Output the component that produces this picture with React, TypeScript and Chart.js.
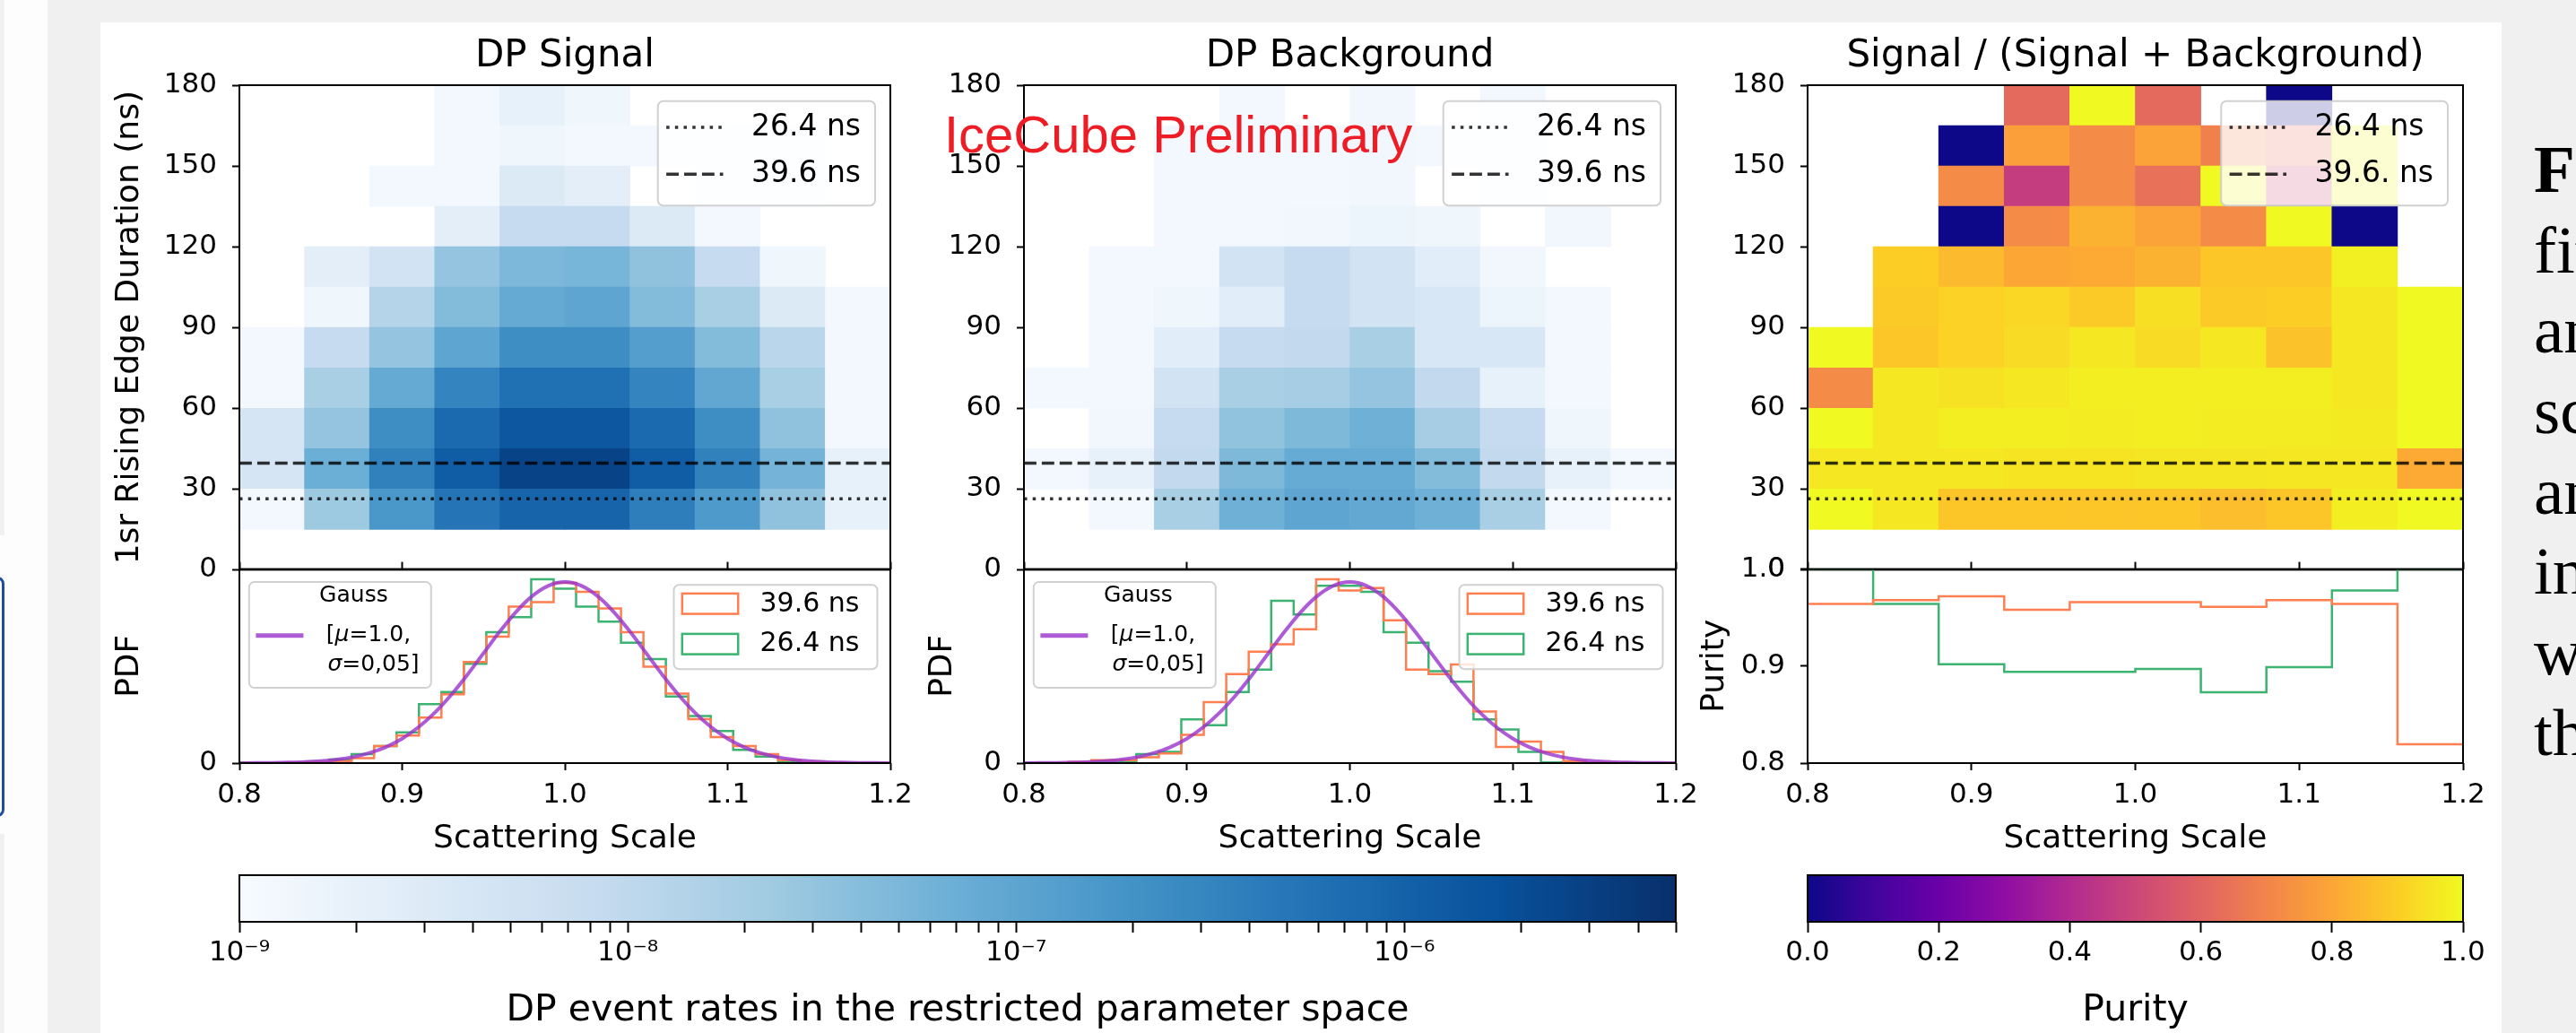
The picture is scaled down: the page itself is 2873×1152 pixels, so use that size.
import React, { useEffect, useRef } from 'react';
import { Chart, registerables } from 'chart.js';

Chart.register(...registerables);

const FONT = "'DejaVu Sans', sans-serif";
const INK = '#000000';
Chart.defaults.font.family = FONT;
Chart.defaults.color = INK;

// ================= DATA =================
// Scattering-scale bin edges of the 2D maps and duration (ns) bin edges, top row first
const scaleEdges = [0.8, 0.84, 0.88, 0.92, 0.96, 1.0, 1.04, 1.08, 1.12, 1.16, 1.2];
const durationEdges = [180, 165, 150, 135, 120, 105, 90, 75, 60, 45, 30, 15];
const cutDurations = [26.4, 39.6];
const heatTitles = ['DP Signal', 'DP Background', 'Signal / (Signal + Background)'];
const cutLabelsA = ['26.4 ns', '39.6 ns'];
const cutLabelsB = ['26.4 ns', '39.6. ns'];

// DP event rates, rows from 165-180 ns (top) down to 15-30 ns; null = empty bin
const signalRates = [
  [null, null, null, 1.19e-9, 1.98e-9, 1.41e-9, null, null, null, null],
  [null, null, null, 1.19e-9, 1.41e-9, 1.19e-9, 1.19e-9, 1.19e-9, 1.19e-9, null],
  [null, null, 1.19e-9, 1.19e-9, 3.16e-9, 2.34e-9, null, 1.19e-9, 1.19e-9, null],
  [null, null, null, 2.34e-9, 8.41e-9, 8.41e-9, 3.16e-9, 1.19e-9, null, null],
  [null, 2.34e-9, 5.04e-9, 3.02e-8, 4.82e-8, 5.48e-8, 3.29e-8, 8.41e-9, 1.41e-9, null],
  [null, 1.41e-9, 1.29e-8, 4.25e-8, 8.38e-8, 9.93e-8, 4.25e-8, 1.81e-8, 3.16e-9, 1.19e-9],
  [1.19e-9, 8.41e-9, 3.02e-8, 9.93e-8, 2.33e-7, 2.33e-7, 1.28e-7, 4.25e-8, 1.18e-8, 1.19e-9],
  [1.19e-9, 1.81e-8, 8.38e-8, 3.27e-7, 6.21e-7, 6.21e-7, 3.27e-7, 9.12e-8, 1.81e-8, 1.19e-9],
  [4.25e-9, 3.02e-8, 2.33e-7, 7.67e-7, 1.39e-6, 1.39e-6, 7.67e-7, 2.33e-7, 3.29e-8, 1.19e-9],
  [4.25e-9, 7.08e-8, 3.56e-7, 1.17e-6, 2.75e-6, 2.75e-6, 1.17e-6, 3.56e-7, 5.72e-8, 1.98e-9],
  [1.19e-9, 2.44e-8, 1.66e-7, 5.46e-7, 9.1e-7, 9.1e-7, 3.88e-7, 1.52e-7, 3.29e-8, 1.98e-9],
];
const backgroundRates = [
  [null, null, null, 1.19e-9, null, 1.29e-9, null, 1.19e-9, null, null],
  [null, null, 1.19e-9, 1.19e-9, 1.19e-9, 1.29e-9, 1.19e-9, 1.19e-9, null, null],
  [null, null, 1.19e-9, 1.19e-9, 1.19e-9, 1.29e-9, null, 1.19e-9, null, null],
  [null, null, 1.19e-9, 1.19e-9, 1.29e-9, 1.53e-9, 1.41e-9, null, 1.29e-9, null],
  [null, 1.19e-9, 1.19e-9, 5.04e-9, 8.41e-9, 5.04e-9, 2.55e-9, 1.29e-9, null, null],
  [null, 1.19e-9, 1.41e-9, 2.55e-9, 8.41e-9, 5.04e-9, 3.91e-9, 1.53e-9, 1.19e-9, null],
  [null, 1.19e-9, 2.55e-9, 8.41e-9, 9.16e-9, 1.81e-8, 3.91e-9, 3.91e-9, 1.19e-9, null],
  [1.19e-9, 1.19e-9, 5.04e-9, 1.81e-8, 1.97e-8, 3.02e-8, 9.16e-9, 1.98e-9, 1.19e-9, null],
  [null, 1.29e-9, 8.41e-9, 3.15e-8, 4.62e-8, 6.5e-8, 1.97e-8, 8.41e-9, 1.41e-9, null],
  [1.19e-9, 1.98e-9, 9.16e-9, 4.62e-8, 8.03e-8, 8.03e-8, 4.25e-8, 9.16e-9, 1.98e-9, 1.19e-9],
  [null, 1.19e-9, 1.81e-8, 6.5e-8, 9.93e-8, 8.75e-8, 6.5e-8, 1.81e-8, 1.19e-9, null],
];
const purityMap = [
  [null, null, null, 0.62, 1.0, 0.62, null, 0.0, null, null],
  [null, null, 0.0, 0.78, 0.72, 0.79, 0.69, 0.64, 1.0, null],
  [null, null, 0.72, 0.47, 0.72, 0.64, 1.0, 0.5, 1.0, null],
  [null, null, 0.0, 0.72, 0.83, 0.79, 0.72, 1.0, 0.0, null],
  [null, 0.9, 0.85, 0.8, 0.81, 0.83, 0.88, 0.88, 0.98, null],
  [null, 0.89, 0.91, 0.92, 0.89, 0.94, 0.89, 0.9, 0.96, 1.0],
  [1.0, 0.88, 0.91, 0.93, 0.96, 0.93, 0.96, 0.87, 0.96, 1.0],
  [0.72, 0.96, 0.945, 0.96, 0.975, 0.975, 0.975, 0.975, 0.96, 1.0],
  [1.0, 0.96, 0.975, 0.975, 0.97, 0.975, 0.97, 0.97, 0.965, 1.0],
  [0.96, 0.96, 0.96, 0.95, 0.95, 0.955, 0.955, 0.96, 0.96, 0.81],
  [1.0, 0.96, 0.88, 0.88, 0.88, 0.88, 0.86, 0.88, 0.975, 1.0],
];

// 1D PDFs (29 equal bins between 0.8 and 1.2)
const pdfRange = [0.8, 1.2];
const pdfBinCount = 29;
const pdfMax = 8.55;
const signalPdf396 = [0, 0, 0.02, 0.05, 0.09, 0.22, 0.75, 1.21, 2.01, 3.03, 4.45, 5.57, 6.89, 7.09, 7.94, 7.55, 6.82, 5.77, 4.25, 3.06, 1.94, 1.15, 0.75, 0.4, 0.13, 0.05, 0.02, 0, 0];
const signalPdf264 = [0, 0, 0.01, 0.04, 0.16, 0.4, 0.75, 1.35, 2.6, 3.13, 4.38, 5.77, 6.43, 8.1, 7.68, 6.89, 6.23, 5.3, 4.58, 2.93, 2.07, 1.41, 0.58, 0.29, 0.09, 0.03, 0.01, 0, 0];
const backgroundPdf396 = [0, 0, 0.05, 0.13, 0.13, 0.26, 0.42, 1.24, 2.69, 3.92, 4.91, 5.24, 5.9, 8.1, 7.61, 7.71, 6.29, 4.12, 3.92, 4.35, 2.27, 0.71, 0.95, 0.49, 0.09, 0.03, 0.01, 0, 0];
const backgroundPdf264 = [0, 0, 0.02, 0.09, 0.09, 0.4, 0.49, 1.93, 1.67, 3.13, 4.12, 7.15, 6.55, 7.81, 7.81, 7.55, 5.77, 5.3, 4.05, 3.59, 1.93, 1.48, 0.49, 0.03, 0, 0, 0, 0, 0];
const gaussScale = [0.8, 0.81, 0.82, 0.83, 0.84, 0.85, 0.86, 0.87, 0.88, 0.89, 0.9, 0.91, 0.92, 0.93, 0.94, 0.95, 0.96, 0.97, 0.98, 0.99, 1.0, 1.01, 1.02, 1.03, 1.04, 1.05, 1.06, 1.07, 1.08, 1.09, 1.1, 1.11, 1.12, 1.13, 1.14, 1.15, 1.16, 1.17, 1.18, 1.19, 1.2];
const gaussPdf = [0.003, 0.006, 0.012, 0.025, 0.048, 0.089, 0.158, 0.272, 0.448, 0.709, 1.08, 1.579, 2.218, 2.995, 3.884, 4.839, 5.794, 6.665, 7.365, 7.821, 7.979, 7.821, 7.365, 6.665, 5.794, 4.839, 3.884, 2.995, 2.218, 1.579, 1.08, 0.709, 0.448, 0.272, 0.158, 0.089, 0.048, 0.025, 0.012, 0.006, 0.003];

// Purity per scattering-scale bin
const purity264 = [1.0, 0.964, 0.902, 0.894, 0.894, 0.897, 0.873, 0.899, 0.978, 1.0];
const purity396 = [0.964, 0.968, 0.972, 0.958, 0.966, 0.966, 0.961, 0.968, 0.964, 0.8195];

// Colour bars
const rateRange = [1e-9, 5e-6];
const rateTickValues = [1e-9, 2e-9, 3e-9, 4e-9, 5e-9, 6e-9, 7e-9, 8e-9, 9e-9, 1e-8, 2e-8, 3e-8, 4e-8, 5e-8, 6e-8, 7e-8, 8e-8, 9e-8, 1e-7, 2e-7, 3e-7, 4e-7, 5e-7, 6e-7, 7e-7, 8e-7, 9e-7, 1e-6, 2e-6, 3e-6, 4e-6, 5e-6];
const rateMajorTicks = [1e-9, 1e-8, 1e-7, 1e-6];
const rateTickLabels = ['10⁻⁹', '10⁻⁸', '10⁻⁷', '10⁻⁶'];
const purityTicks = [0, 0.2, 0.4, 0.6, 0.8, 1.0];

// ================= STYLE =================
const BLUES = ['#f7fbff', '#deebf7', '#c6dbef', '#9ecae1', '#6baed6', '#4292c6', '#2171b5', '#08519c', '#08306b'];
const PLASMA = ['#0d0887', '#41049d', '#6a00a8', '#8f0da4', '#b12a90', '#cc4778', '#e16462', '#f2844b', '#fca636', '#fcce25', '#f0f921'];
const CUT_COLOR = 'rgba(0,0,0,0.8)';
const CUT_WIDTH = 3.5;
const DOTTED = [3.5, 6.2];
const DASHED = [13.9, 6];
const HIST_ORANGE = '#ff7f50';
const HIST_GREEN = '#3cb371';
const GAUSS_COLOR = 'rgba(153,50,204,0.8)';
const tickFont = { family: FONT, size: 31 };
const labelFont = { family: FONT, size: 36 };

function hexRgb(h: string) {
  return [parseInt(h.slice(1, 3), 16), parseInt(h.slice(3, 5), 16), parseInt(h.slice(5, 7), 16)];
}
function cmap(stops: string[], t: number) {
  const tt = Math.max(0, Math.min(1, t));
  const pos = tt * (stops.length - 1);
  const i = Math.min(Math.floor(pos), stops.length - 2);
  const f = pos - i;
  const a = hexRgb(stops[i]);
  const b = hexRgb(stops[i + 1]);
  const c = a.map((v, k) => Math.round(v + (b[k] - v) * f));
  return `rgb(${c[0]},${c[1]},${c[2]})`;
}
function rateColor(v: number) {
  const lo = Math.log10(rateRange[0]);
  const hi = Math.log10(rateRange[1]);
  return cmap(BLUES, (Math.log10(v) - lo) / (hi - lo));
}
function purityColor(p: number) {
  return cmap(PLASMA, p);
}

const pdfEdges = Array.from({ length: pdfBinCount + 1 }, (_, k) => pdfRange[0] + (k * (pdfRange[1] - pdfRange[0])) / pdfBinCount);

function histOutline(values: number[]) {
  const pts: any[] = [{ x: pdfEdges[0], y: 0 }];
  values.forEach((v, k) => {
    pts.push({ x: pdfEdges[k], y: v }, { x: pdfEdges[k + 1], y: v });
  });
  pts.push({ x: pdfEdges[values.length], y: 0 });
  return pts;
}
function stepOutline(values: number[]) {
  const pts: any[] = [];
  values.forEach((v, k) => {
    pts.push({ x: scaleEdges[k], y: v }, { x: scaleEdges[k + 1], y: v });
  });
  return pts;
}

// ================= DRAW HELPERS =================
function drawFrame(chart: any) {
  const { ctx, chartArea: a } = chart;
  ctx.save();
  ctx.strokeStyle = INK;
  ctx.lineWidth = 2;
  ctx.setLineDash([]);
  ctx.strokeRect(a.left, a.top, a.right - a.left, a.bottom - a.top);
  ctx.restore();
}
function legendFrame(ctx: any, x: number, y: number, w: number, h: number) {
  const r = 6;
  ctx.beginPath();
  ctx.moveTo(x + r, y);
  ctx.arcTo(x + w, y, x + w, y + h, r);
  ctx.arcTo(x + w, y + h, x, y + h, r);
  ctx.arcTo(x, y + h, x, y, r);
  ctx.arcTo(x, y, x + w, y, r);
  ctx.closePath();
  ctx.fillStyle = 'rgba(255,255,255,0.8)';
  ctx.fill();
  ctx.strokeStyle = 'rgba(204,204,204,0.9)';
  ctx.lineWidth = 2;
  ctx.setLineDash([]);
  ctx.stroke();
}
function drawCutLegend(chart: any, labels: string[]) {
  const { ctx, chartArea: a } = chart;
  ctx.save();
  ctx.font = `33px ${FONT}`;
  const tw = Math.max(...labels.map((t) => ctx.measureText(t).width));
  const w = 104.2 + tw + 16;
  const h = 116.5;
  const x = a.right - 17 - w;
  const y = a.top + 17.8;
  legendFrame(ctx, x, y, w, h);
  const rows: [number[], number][] = [[DOTTED, 29.2], [DASHED, 81.4]];
  rows.forEach(([dash, dy], k) => {
    ctx.beginPath();
    ctx.setLineDash(dash);
    ctx.lineWidth = CUT_WIDTH;
    ctx.strokeStyle = CUT_COLOR;
    ctx.moveTo(x + 9.4, y + dy);
    ctx.lineTo(x + 72.8, y + dy);
    ctx.stroke();
    ctx.setLineDash([]);
    ctx.fillStyle = INK;
    ctx.textAlign = 'left';
    ctx.textBaseline = 'middle';
    ctx.fillText(labels[k], x + 104.2, y + dy);
  });
  ctx.restore();
}
function drawHistLegend(chart: any) {
  const { ctx, chartArea: a } = chart;
  const labels = ['39.6 ns', '26.4 ns'];
  const colors = [HIST_ORANGE, HIST_GREEN];
  ctx.save();
  ctx.font = `30px ${FONT}`;
  const tw = Math.max(...labels.map((t) => ctx.measureText(t).width));
  const w = 96 + tw + 20;
  const h = 94;
  const x = a.right - 14.5 - w;
  const y = a.top + 17.7;
  legendFrame(ctx, x, y, w, h);
  [[9.6, 22.3], [54.6, 65.6]].forEach(([ry, ty], k) => {
    ctx.strokeStyle = colors[k];
    ctx.lineWidth = 2.5;
    ctx.strokeRect(x + 9.3, y + ry, 62.4, 22.7);
    ctx.fillStyle = INK;
    ctx.textAlign = 'left';
    ctx.textBaseline = 'middle';
    ctx.fillText(labels[k], x + 96, y + ty);
  });
  ctx.restore();
}
function drawSegments(ctx: any, segs: [string, boolean][], x: number, y: number) {
  let cx = x;
  segs.forEach(([t, italic]) => {
    ctx.font = `${italic ? 'italic ' : ''}25px ${FONT}`;
    ctx.fillText(t, cx, y);
    cx += ctx.measureText(t).width;
  });
}
function drawGaussLegend(chart: any) {
  const { ctx, chartArea: a } = chart;
  const x = a.left + 10.8;
  const y = a.top + 14.5;
  ctx.save();
  legendFrame(ctx, x, y, 203, 118);
  ctx.fillStyle = INK;
  ctx.textBaseline = 'middle';
  ctx.textAlign = 'center';
  ctx.font = `25px ${FONT}`;
  ctx.fillText('Gauss', x + 116.6, y + 15.7);
  ctx.beginPath();
  ctx.strokeStyle = GAUSS_COLOR;
  ctx.lineWidth = 5;
  ctx.moveTo(x + 7.6, y + 59.7);
  ctx.lineTo(x + 60.6, y + 59.7);
  ctx.stroke();
  ctx.textAlign = 'left';
  drawSegments(ctx, [['[', false], ['μ', true], ['=1.0,', false]], x + 86, y + 59.7);
  drawSegments(ctx, [['σ', true], ['=0,05]', false]], x + 87.6, y + 92.4);
  ctx.restore();
}
function drawWatermark(chart: any) {
  const { ctx, chartArea: a } = chart;
  ctx.save();
  ctx.font = "58px 'Liberation Sans', Arial, sans-serif";
  ctx.fillStyle = 'rgb(238,28,36)';
  ctx.textAlign = 'left';
  ctx.textBaseline = 'alphabetic';
  ctx.fillText('IceCube Preliminary', a.left - 89, a.top + 75);
  ctx.restore();
}
const decor = (fn: (c: any) => void) => ({ id: 'decor', afterDraw: (c: any) => fn(c) });

function tickGrid(len: number) {
  return { drawOnChartArea: false, drawTicks: true, tickLength: len, tickWidth: 2, tickColor: INK };
}
const baseOptions = {
  responsive: false,
  maintainAspectRatio: false,
  animation: false,
  devicePixelRatio: 1,
  events: [],
};

// ================= LAYOUT =================
const COLS = [{ l: 267, r: 993 }, { l: 1142, r: 1869 }, { l: 2016, r: 2747 }];
const HEAT_TOP = 95;
const HEAT_BOTTOM = 635;
const LOWER_BOTTOM = 851;
const BAR_TOP = 976;
const BAR_BOTTOM = 1028;
const HEAT_M = { l: 150, t: 70, r: 12, b: 20 };
const LOWER_M = { l: 150, t: 20, r: 40, b: 109 };
const BAR_M = { l: 60, t: 10, r: 60, b: 124 };
const Y_TITLE_PAD = [6.4, 37.9, 24.9];

function heatConfig(i: number) {
  const matrix = [signalRates, backgroundRates, purityMap][i];
  const color = i === 2 ? purityColor : rateColor;
  const cells: any[] = [];
  matrix.forEach((row: any[], r: number) =>
    row.forEach((v: any, c: number) => {
      if (v === null) return;
      cells.push({ x: (scaleEdges[c] + scaleEdges[c + 1]) / 2, y: [durationEdges[r + 1], durationEdges[r]], v });
    })
  );
  const labels = i === 2 ? cutLabelsB : cutLabelsA;
  const cutLine = (d: number, dash: number[], order: number) => ({
    type: 'line',
    data: [{ x: scaleEdges[0], y: d }, { x: scaleEdges[scaleEdges.length - 1], y: d }],
    borderColor: CUT_COLOR,
    borderWidth: CUT_WIDTH,
    borderDash: dash,
    pointRadius: 0,
    order,
  });
  return {
    type: 'bar',
    data: {
      datasets: [
        {
          type: 'bar',
          data: cells,
          backgroundColor: (c: any) => (c.raw ? color(c.raw.v) : 'rgba(0,0,0,0)'),
          borderWidth: 0,
          barPercentage: 1,
          categoryPercentage: 1,
          order: 3,
        },
        cutLine(cutDurations[0], DOTTED, 1),
        cutLine(cutDurations[1], DASHED, 2),
      ],
    },
    options: {
      ...baseOptions,
      layout: { padding: { left: 0, top: 0, right: HEAT_M.r, bottom: 0 } },
      plugins: {
        legend: { display: false },
        tooltip: { enabled: false },
        title: {
          display: true,
          text: heatTitles[i],
          font: { family: FONT, size: 42, weight: 'normal' },
          color: INK,
          padding: { top: 12.8, bottom: 6.8 },
          fullSize: false,
        },
      },
      scales: {
        x: {
          type: 'linear',
          min: 0.8,
          max: 1.2,
          offset: false,
          ticks: { display: false, stepSize: 0.1 },
          grid: { offset: false, drawOnChartArea: false, drawTicks: false },
          border: { display: false },
          afterFit: (s: any) => {
            s.height = HEAT_M.b;
          },
        },
        y: {
          type: 'linear',
          min: 0,
          max: 180,
          ticks: { stepSize: 30, font: tickFont, color: INK, padding: 17 },
          grid: tickGrid(8),
          border: { display: false },
          title: {
            display: i === 0,
            text: '1sr Rising Edge Duration (ns)',
            font: labelFont,
            color: INK,
            padding: { top: Y_TITLE_PAD[0], bottom: 0 },
          },
          afterFit: (s: any) => {
            s.width = HEAT_M.l;
          },
        },
      },
    },
    plugins: [
      decor((chart) => {
        drawFrame(chart);
        drawCutLegend(chart, labels);
        if (i === 1) drawWatermark(chart);
      }),
    ],
  };
}

function lowerConfig(i: number) {
  const isPurity = i === 2;
  let datasets: any[];
  if (!isPurity) {
    const p396 = i === 0 ? signalPdf396 : backgroundPdf396;
    const p264 = i === 0 ? signalPdf264 : backgroundPdf264;
    datasets = [
      {
        data: gaussScale.map((x, k) => ({ x, y: gaussPdf[k] })),
        borderColor: GAUSS_COLOR,
        borderWidth: 4,
        cubicInterpolationMode: 'monotone',
        pointRadius: 0,
      },
      { data: histOutline(p396), borderColor: HIST_ORANGE, borderWidth: 2.5, pointRadius: 0 },
      { data: histOutline(p264), borderColor: HIST_GREEN, borderWidth: 2.5, pointRadius: 0 },
    ];
  } else {
    datasets = [
      { data: stepOutline(purity396), borderColor: HIST_ORANGE, borderWidth: 2.5, pointRadius: 0 },
      { data: stepOutline(purity264), borderColor: HIST_GREEN, borderWidth: 2.5, pointRadius: 0 },
    ];
  }
  const yScale = isPurity
    ? {
        type: 'linear',
        min: 0.8,
        max: 1.0,
        ticks: { stepSize: 0.1, callback: (v: any) => Number(v).toFixed(1), font: tickFont, color: INK, padding: 17 },
      }
    : {
        type: 'linear',
        min: 0,
        max: pdfMax,
        afterBuildTicks: (s: any) => {
          s.ticks = [{ value: 0 }];
        },
        ticks: { callback: (v: any) => String(v), font: tickFont, color: INK, padding: 17 },
      };
  return {
    type: 'line',
    data: { datasets },
    options: {
      ...baseOptions,
      layout: { padding: { left: 0, top: 10, right: LOWER_M.r, bottom: 0 } },
      plugins: { legend: { display: false }, tooltip: { enabled: false } },
      scales: {
        x: {
          type: 'linear',
          position: 'bottom',
          min: 0.8,
          max: 1.2,
          ticks: { stepSize: 0.1, callback: (v: any) => Number(v).toFixed(1), font: tickFont, color: INK, padding: 9, maxRotation: 0, autoSkip: false },
          grid: tickGrid(8),
          border: { display: false },
          title: { display: true, text: 'Scattering Scale', font: labelFont, color: INK, padding: { top: 0, bottom: 2.9 } },
          afterFit: (s: any) => {
            s.height = LOWER_M.b;
          },
        },
        xTop: {
          type: 'linear',
          position: 'top',
          min: 0.8,
          max: 1.2,
          ticks: { display: false, stepSize: 0.1 },
          grid: tickGrid(8),
          border: { display: false },
          afterFit: (s: any) => {
            s.height = 10;
          },
        },
        y: {
          ...yScale,
          grid: tickGrid(8),
          border: { display: false },
          title: {
            display: true,
            text: isPurity ? 'Purity' : 'PDF',
            font: labelFont,
            color: INK,
            padding: { top: Y_TITLE_PAD[i], bottom: 0 },
          },
          afterFit: (s: any) => {
            s.width = LOWER_M.l;
          },
        },
      },
    },
    plugins: [
      decor((chart) => {
        drawFrame(chart);
        if (!isPurity) {
          drawGaussLegend(chart);
          drawHistLegend(chart);
        }
      }),
    ],
  };
}

function barGradient(chart: any, stops: string[]) {
  const a = chart.chartArea;
  if (!a) return stops[0];
  const g = chart.ctx.createLinearGradient(a.left, 0, a.right, 0);
  stops.forEach((c, k) => g.addColorStop(k / (stops.length - 1), c));
  return g;
}

function barConfig(j: number) {
  const isRate = j === 0;
  const stops = isRate ? BLUES : PLASMA;
  const xScale = isRate
    ? {
        type: 'logarithmic',
        min: rateRange[0],
        max: rateRange[1],
        afterBuildTicks: (s: any) => {
          s.ticks = rateTickValues.map((v) => ({ value: v }));
        },
        ticks: {
          callback: (v: any) => {
            const k = rateMajorTicks.findIndex((m) => Math.abs(Number(v) / m - 1) < 1e-6);
            return k >= 0 ? rateTickLabels[k] : '';
          },
          autoSkip: false,
          maxRotation: 0,
          font: tickFont,
          color: INK,
          padding: 4,
        },
      }
    : {
        type: 'linear',
        min: 0,
        max: 1,
        afterBuildTicks: (s: any) => {
          s.ticks = purityTicks.map((v) => ({ value: v }));
        },
        ticks: { callback: (v: any) => Number(v).toFixed(1), autoSkip: false, maxRotation: 0, font: tickFont, color: INK, padding: 4 },
      };
  return {
    type: 'bar',
    data: {
      labels: [''],
      datasets: [
        {
          data: [isRate ? rateRange : [0, 1]],
          backgroundColor: (c: any) => barGradient(c.chart, stops),
          borderWidth: 0,
          barPercentage: 1,
          categoryPercentage: 1,
        },
      ],
    },
    options: {
      ...baseOptions,
      indexAxis: 'y',
      layout: { padding: { left: BAR_M.l, top: BAR_M.t, right: BAR_M.r, bottom: 0 } },
      plugins: { legend: { display: false }, tooltip: { enabled: false } },
      scales: {
        x: {
          ...xScale,
          position: 'bottom',
          grid: tickGrid(12),
          border: { display: false },
          title: {
            display: true,
            text: isRate ? 'DP event rates in the restricted parameter space' : 'Purity',
            font: { family: FONT, size: 41 },
            color: INK,
            padding: { top: 0, bottom: 0.4 },
          },
          afterFit: (s: any) => {
            s.height = BAR_M.b;
          },
        },
        y: { display: false },
      },
    },
    plugins: [decor((chart) => drawFrame(chart))],
  };
}

type Spec = { key: string; box: { l: number; t: number; w: number; h: number }; m: { l: number; t: number; r: number; b: number }; make: () => any };

const specs: Spec[] = [
  ...COLS.map((c, i) => ({
    key: `heat${i}`,
    box: { l: c.l, t: HEAT_TOP, w: c.r - c.l, h: HEAT_BOTTOM - HEAT_TOP },
    m: HEAT_M,
    make: () => heatConfig(i),
  })),
  ...COLS.map((c, i) => ({
    key: `lower${i}`,
    box: { l: c.l, t: HEAT_BOTTOM, w: c.r - c.l, h: LOWER_BOTTOM - HEAT_BOTTOM },
    m: LOWER_M,
    make: () => lowerConfig(i),
  })),
  {
    key: 'bar0',
    box: { l: COLS[0].l, t: BAR_TOP, w: COLS[1].r - COLS[0].l, h: BAR_BOTTOM - BAR_TOP },
    m: BAR_M,
    make: () => barConfig(0),
  },
  {
    key: 'bar1',
    box: { l: COLS[2].l, t: BAR_TOP, w: COLS[2].r - COLS[2].l, h: BAR_BOTTOM - BAR_TOP },
    m: BAR_M,
    make: () => barConfig(1),
  },
];

const sideLines = ['fit', 'and', 'scale', 'and', 'in', 'with', 'the'];

export default function App() {
  const canvasRefs = useRef<(HTMLCanvasElement | null)[]>([]);

  useEffect(() => {
    document.body.style.margin = '0';
    document.body.style.overflow = 'hidden';
    const charts: any[] = [];
    specs.forEach((s, k) => {
      const cv = canvasRefs.current[k];
      if (!cv) return;
      const chart: any = new Chart(cv, s.make() as any);
      // grow / shrink the canvas until the plot area has exactly the wanted size
      for (let it = 0; it < 4; it++) {
        const a = chart.chartArea;
        if (!a) break;
        const dw = s.box.w - (a.right - a.left);
        const dh = s.box.h - (a.bottom - a.top);
        if (Math.abs(dw) < 0.5 && Math.abs(dh) < 0.5) break;
        chart.resize(Math.round(chart.width + dw), Math.round(chart.height + dh));
      }
      const a = chart.chartArea;
      if (a) {
        cv.style.left = `${s.box.l - a.left}px`;
        cv.style.top = `${s.box.t - a.top}px`;
      }
      charts.push(chart);
    });
    return () => charts.forEach((c) => c.destroy());
  }, []);

  return (
    <div
      style={{
        position: 'absolute',
        left: 0,
        top: 0,
        width: 2873,
        height: 1152,
        overflow: 'hidden',
        background: '#f0f0f0',
      }}
    >
      <div style={{ position: 'absolute', left: 5, top: 0, width: 48, height: 1152, background: '#fdfdfd' }} />
      <div style={{ position: 'absolute', left: 0, top: 597, width: 5, height: 333, background: '#fdfdfd' }} />
      <div
        style={{
          position: 'absolute',
          left: -20,
          top: 643,
          width: 25,
          height: 268,
          boxSizing: 'border-box',
          border: '3px solid #1f4e9c',
          borderRadius: 8,
        }}
      />
      <div style={{ position: 'absolute', left: 112, top: 25, width: 2678, height: 1127, background: '#ffffff' }} />
      {specs.map((s, k) => {
        const w = s.m.l + s.box.w + s.m.r;
        const h = s.m.t + s.box.h + s.m.b;
        return (
          <canvas
            key={s.key}
            ref={(el) => {
              canvasRefs.current[k] = el;
            }}
            width={w}
            height={h}
            style={{ position: 'absolute', left: s.box.l - s.m.l, top: s.box.t - s.m.t, width: w, height: h }}
          />
        );
      })}
      <div
        style={{
          position: 'absolute',
          left: 2826,
          top: 143.8,
          fontFamily: "'Liberation Serif', 'Times New Roman', serif",
          fontSize: 75,
          lineHeight: '89.7px',
          color: '#000',
          whiteSpace: 'nowrap',
        }}
      >
        <div style={{ fontWeight: 'bold' }}>Figure 5:</div>
        {sideLines.map((t, k) => (
          <div key={k}>{t}</div>
        ))}
      </div>
    </div>
  );
}
